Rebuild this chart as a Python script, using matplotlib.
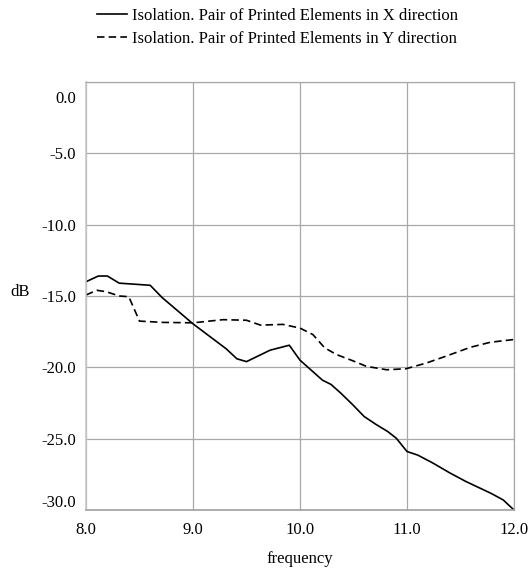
import matplotlib
matplotlib.use("Agg")
import matplotlib.pyplot as plt
from matplotlib.transforms import ScaledTranslation

plt.rcParams['font.family'] = ['Liberation Serif', 'DejaVu Serif']

freq_x = [8.0, 8.115, 8.2, 8.31, 8.41, 8.6, 8.71, 9.0, 9.31, 9.41, 9.5, 9.61, 9.72, 9.9,
          10.0, 10.21, 10.29, 10.38, 10.49, 10.6, 10.71, 10.82, 10.9, 11.0, 11.1, 11.24,
          11.4, 11.55, 11.79, 11.9, 12.0]
iso_x = [-14.0, -13.6, -13.6, -14.1, -14.15, -14.25, -15.1, -16.95, -18.7, -19.4, -19.6,
         -19.2, -18.8, -18.45, -19.5, -20.9, -21.2, -21.8, -22.6, -23.45, -24.0, -24.5,
         -24.97, -25.9, -26.15, -26.7, -27.4, -28.0, -28.85, -29.3, -30.0]

freq_y = [8.0, 8.1, 8.19, 8.31, 8.4, 8.5, 8.72, 9.0, 9.28, 9.5, 9.63, 9.84, 10.0, 10.12,
          10.23, 10.34, 10.49, 10.62, 10.81, 10.99, 11.18, 11.36, 11.59, 11.78, 12.0]
iso_y = [-14.93, -14.6, -14.7, -15.0, -15.05, -16.76, -16.85, -16.88, -16.66, -16.7,
         -17.04, -16.99, -17.25, -17.7, -18.63, -19.1, -19.53, -19.93, -20.17, -20.1,
         -19.7, -19.23, -18.6, -18.24, -18.05]

x_ticks = [8.0, 9.0, 10.0, 11.0, 12.0]
y_ticks = [0.0, -5.0, -10.0, -15.0, -20.0, -25.0, -30.0]

FS = 12

fig = plt.figure(figsize=(5.3, 5.7), dpi=100)
ax = fig.add_axes([86 / 530, 1 - 510 / 570, 428 / 530, 428 / 570])

l1, = ax.plot(freq_x, iso_x, color='black', lw=1.2, ls='-',
              label='Isolation. Pair of Printed Elements in X direction')
l2, = ax.plot(freq_y, iso_y, color='black', lw=1.2, ls=(0, (4.5, 2.5)),
              label='Isolation. Pair of Printed Elements in Y direction')

ax.set_xlim(8.0, 12.0)
ax.set_ylim(-30.0, 0.0)
ax.set_xticks(x_ticks)
ax.set_xticklabels([f"{v:.1f}" for v in x_ticks])
ax.set_yticks(y_ticks)
ax.set_yticklabels([f"{v:.1f}" for v in y_ticks])
ax.tick_params(length=0, labelsize=FS, colors='black')
ax.tick_params(axis='y', pad=7)
ax.tick_params(axis='x', pad=9)
ax.grid(True, color='#a8a8a8', lw=0.9)
ax.set_axisbelow(True)
for s in ['top', 'right']:
    ax.spines[s].set_color('#a8a8a8')
    ax.spines[s].set_linewidth(0.9)
ax.spines['left'].set_color('#c8c8c8')
ax.spines['bottom'].set_color('#a0a0a0')
ax.spines['left'].set_linewidth(1.2)
ax.spines['bottom'].set_linewidth(1.2)

labels = ax.get_yticklabels()
labels[0].set_transform(labels[0].get_transform() + ScaledTranslation(0, -15 / 100, fig.dpi_scale_trans))
labels[-1].set_transform(labels[-1].get_transform() + ScaledTranslation(0, 9 / 100, fig.dpi_scale_trans))

ax.set_xlabel('frequency', fontsize=FS, labelpad=9)
fig.text(20 / 530, 1 - 292 / 570, 'dB', fontsize=FS, ha='center', va='center')

fig.legend(handles=[l1, l2], loc='upper left', bbox_to_anchor=(89 / 530, 1.0),
           frameon=False, fontsize=FS, handlelength=1.85, handletextpad=0.3,
           labelspacing=0.42, borderaxespad=0.05)

fig.savefig('out.png', dpi=100)
